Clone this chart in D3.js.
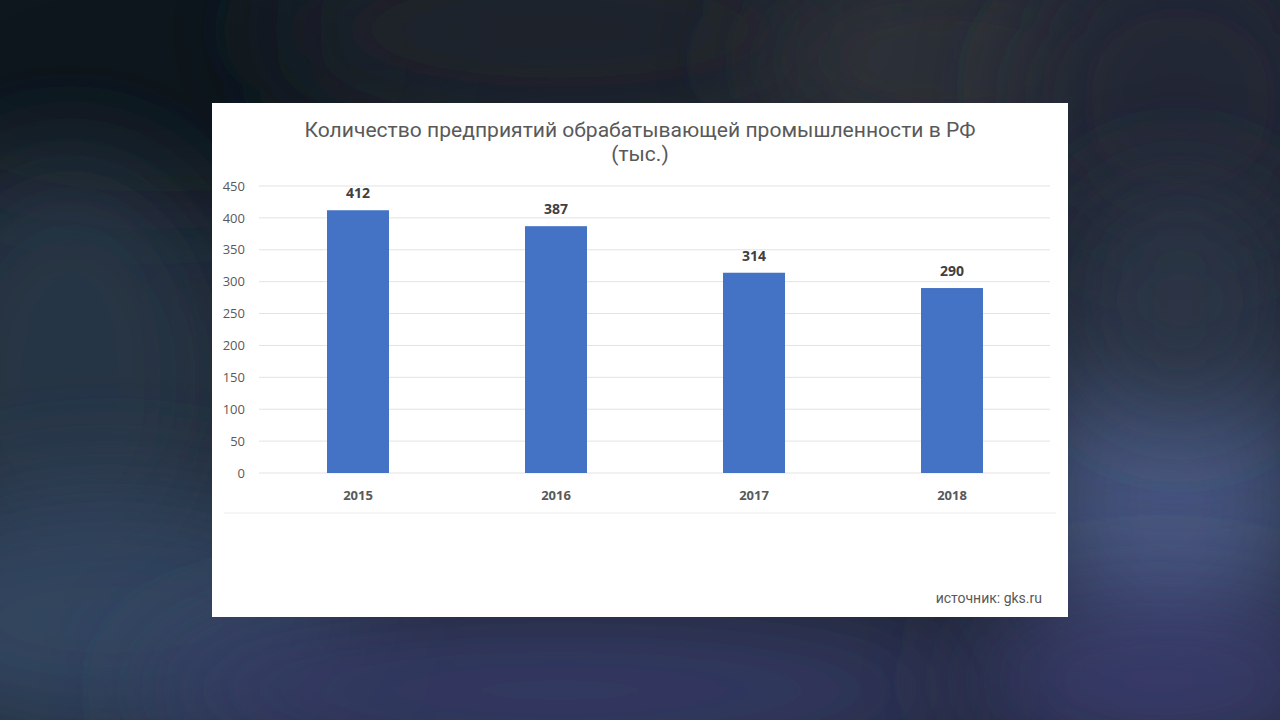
<!DOCTYPE html>
<html><head><meta charset="utf-8">
<script src="https://cdn.jsdelivr.net/npm/d3@7"></script>
<style>html,body{margin:0;padding:0;background:#1e2430;overflow:hidden}</style>
</head><body>
<svg id="c" width="1280" height="720"></svg>
<script>
const categories = ["2015", "2016", "2017", "2018"];
const values = [412, 387, 314, 290];
const yTicks = [0, 50, 100, 150, 200, 250, 300, 350, 400, 450];
const titleLines = ["Количество предприятий обрабатывающей промышленности  в РФ", "(тыс.)"];
const sourceText = "источник: gks.ru";

const svg = d3.select("#c");
const defs = svg.append("defs");
defs.append("filter").attr("id","blur").attr("filterUnits","userSpaceOnUse")
  .attr("x",-400).attr("y",-400).attr("width",2080).attr("height",1520)
  .append("feGaussianBlur").attr("stdDeviation", 55);

// blurred background
const bg = svg.append("g");
bg.append("rect").attr("width",1280).attr("height",720).attr("fill","#1d2430");
const blobs = [
  {x:150,y:60,rx:300,ry:170,c:"#11151d"},
  {x:560,y:30,rx:300,ry:110,c:"#1c222c"},
  {x:950,y:60,rx:200,ry:90,c:"#2e3038"},
  {x:1180,y:100,rx:160,ry:160,c:"#222834"},
  {x:70,y:380,rx:160,ry:220,c:"#283444"},
  {x:110,y:620,rx:250,ry:130,c:"#31455f"},
  {x:560,y:690,rx:420,ry:80,c:"#363a66"},
  {x:1170,y:500,rx:140,ry:170,c:"#46567f"},
  {x:1160,y:680,rx:200,ry:80,c:"#393a6a"},
  {x:1180,y:300,rx:110,ry:120,c:"#2a3444"}
];
bg.selectAll("ellipse").data(blobs).join("ellipse")
  .attr("cx",d=>d.x).attr("cy",d=>d.y).attr("rx",d=>d.rx).attr("ry",d=>d.ry)
  .attr("fill",d=>d.c).attr("filter","url(#blur)");

// white panel
svg.append("rect").attr("x",212).attr("y",103).attr("width",856).attr("height",514).attr("fill","#ffffff");

const x = d3.scaleBand().domain(categories).range([259, 1051]).paddingInner(0.687).paddingOuter(0.3435);
const y = d3.scaleLinear().domain([0, 450]).range([473, 186]);

// gridlines
svg.append("g").selectAll("line").data(yTicks).join("line")
  .attr("x1",259).attr("x2",1050).attr("y1",d=>y(d)).attr("y2",d=>y(d))
  .attr("stroke","#e3e3e3").attr("stroke-width",1);

// y axis labels
const yAxis = d3.axisLeft(y).tickValues(yTicks).tickSize(0).tickPadding(0);
const ya = svg.append("g").attr("transform","translate(245,0)").call(yAxis);
ya.select(".domain").remove();
ya.selectAll("text").attr("fill","#595959").attr("font-family","'Open Sans', sans-serif").attr("font-size",13);

// bars
svg.append("g").selectAll("rect").data(values).join("rect")
  .attr("x",(d,i)=>x(categories[i])).attr("width",x.bandwidth())
  .attr("y",d=>y(d)).attr("height",d=>y(0)-y(d)).attr("fill","#4472c4");

// value labels
svg.append("g").selectAll("text").data(values).join("text")
  .attr("x",(d,i)=>x(categories[i])+x.bandwidth()/2).attr("y",d=>y(d)-12)
  .attr("text-anchor","middle").attr("font-family","'Open Sans', sans-serif").attr("font-weight","bold")
  .attr("font-size",14).attr("fill","#404040").text(d=>d);

// x axis labels
const xAxis = d3.axisBottom(x).tickSize(0).tickPadding(0);
const xa = svg.append("g").attr("transform","translate(0,500)").call(xAxis);
xa.select(".domain").remove();
xa.selectAll("text").attr("fill","#595959").attr("font-family","'Open Sans', sans-serif").attr("font-weight","bold").attr("font-size",13).attr("dy","0");

// bottom separator line
svg.append("line").attr("x1",224).attr("x2",1056).attr("y1",513).attr("y2",513).attr("stroke","#ececec");

// title
svg.append("text").attr("x",640).attr("y",137).attr("text-anchor","middle")
  .attr("font-family","'Liberation Sans Narrow', 'Roboto', sans-serif").attr("font-size",21)
  .attr("fill","#595959").attr("textLength",671).attr("lengthAdjust","spacingAndGlyphs").text(titleLines[0]);
svg.append("text").attr("x",640).attr("y",161).attr("text-anchor","middle")
  .attr("font-family","'Liberation Sans Narrow', 'Roboto', sans-serif").attr("font-size",21)
  .attr("fill","#595959").text(titleLines[1]);

// source
svg.append("text").attr("x",1042).attr("y",603).attr("text-anchor","end")
  .attr("font-family","'Liberation Sans Narrow', 'Roboto', sans-serif").attr("font-size",14)
  .attr("fill","#595959").text(sourceText);
</script>
</body></html>
